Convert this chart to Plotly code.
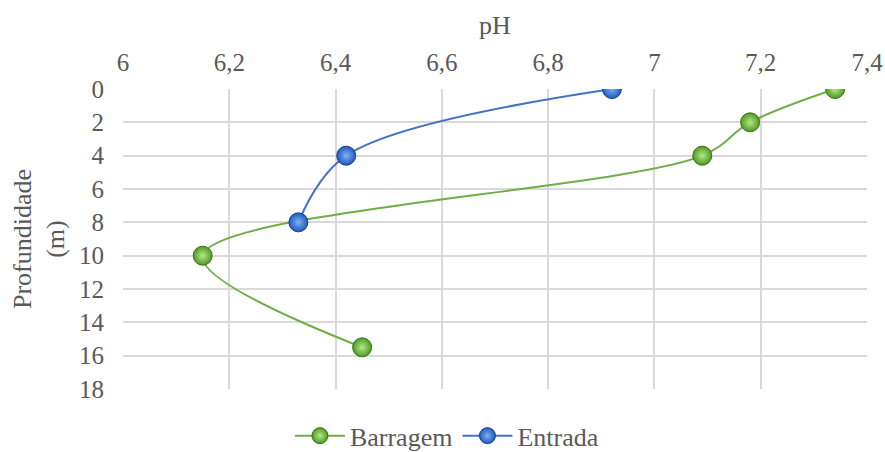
import plotly.graph_objects as go

barragem_ph = [7.34, 7.18, 7.09, 6.15, 6.45]
barragem_depth = [0, 2, 4, 10, 15.5]
entrada_ph = [6.92, 6.42, 6.33]
entrada_depth = [0, 4, 8]

x_ticks = [6, 6.2, 6.4, 6.6, 6.8, 7, 7.2, 7.4]
x_tick_labels = ["6", "6,2", "6,4", "6,6", "6,8", "7", "7,2", "7,4"]
y_ticks = [0, 2, 4, 6, 8, 10, 12, 14, 16, 18]

font_family = "Liberation Serif, Times New Roman, serif"
grey = "#595959"

fig = go.Figure()
fig.add_trace(go.Scatter(
    x=barragem_ph, y=barragem_depth, name="Barragem",
    mode="lines+markers",
    line=dict(color="#70ad47", width=2, shape="spline", smoothing=1),
    marker=dict(size=19, color="#4f9a22",
                gradient=dict(type="radial", color="#b5e88a"),
                line=dict(color="#3b6e1c", width=1)),
))
fig.add_trace(go.Scatter(
    x=entrada_ph, y=entrada_depth, name="Entrada",
    mode="lines+markers",
    line=dict(color="#4472c4", width=2, shape="spline", smoothing=1),
    marker=dict(size=19, color="#1f5bbf",
                gradient=dict(type="radial", color="#7fb0f0"),
                line=dict(color="#183f84", width=1)),
))

fig.update_layout(
    width=885, height=452,
    margin=dict(l=123, r=18, t=89, b=63, autoexpand=False),
    paper_bgcolor="white", plot_bgcolor="white",
    font=dict(family=font_family, color=grey, size=25),
    showlegend=True,
    legend=dict(orientation="h", xref="container", x=0.505, xanchor="center",
                yref="container", y=0.036, yanchor="middle",
                font=dict(size=26, color=grey), tracegroupgap=0,
                itemwidth=50, bgcolor="rgba(0,0,0,0)"),
    xaxis=dict(
        side="top", range=[6, 7.4], tickvals=x_ticks, ticktext=x_tick_labels,
        showgrid=True, gridcolor="#d9d9d9", gridwidth=1.5, zeroline=False,
        showline=False, ticks="", tickfont=dict(size=25, color=grey),
        ticklabelstandoff=12,
        title=dict(text="pH", font=dict(size=26, color=grey), standoff=6),
    ),
    yaxis=dict(
        range=[18, 0], tickvals=y_ticks,
        showgrid=True, gridcolor="#d9d9d9", gridwidth=1.5, zeroline=False,
        showline=False, ticks="", tickfont=dict(size=25, color=grey),
        ticklabelstandoff=18,
        title=dict(text="Profundidade<br>(m)", font=dict(size=26, color=grey), standoff=6),
    ),
)

fig.write_html("out.html")
